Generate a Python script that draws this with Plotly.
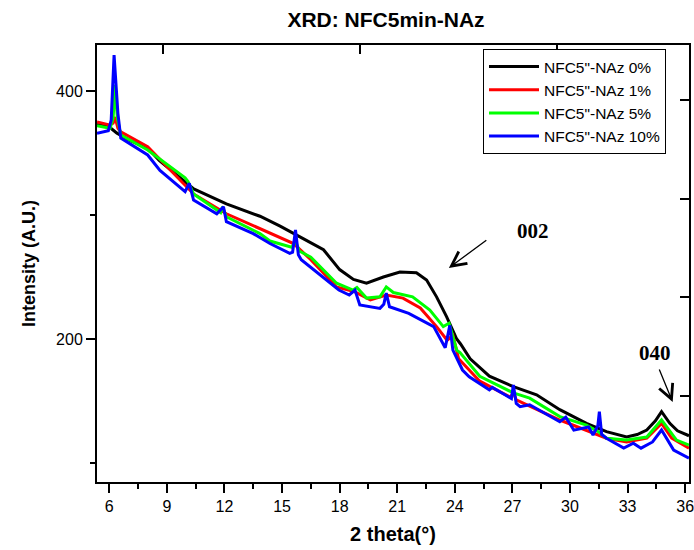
import plotly.graph_objects as go

# ---- data ----
names = ['NFC5"-NAz 0%', 'NFC5"-NAz 1%', 'NFC5"-NAz 5%', 'NFC5"-NAz 10%']
colors = ["#000000", "#ff0000", "#00ff00", "#0000ff"]

x_black = [5.36, 6.0, 6.4, 7.1, 8.0, 8.6, 10.4, 12.1, 13.85, 14.9, 16.1, 17.16, 18.0, 18.72, 19.4,
           20.28, 21.14, 22.0, 22.53, 23.05, 23.57, 24.1, 24.3, 24.8, 25.8, 27.05, 28.26, 29.47,
           30.86, 31.9, 32.95, 33.5, 34.0, 34.45, 34.77, 35.2, 35.6, 36.2]
y_black = [373, 371, 366, 360, 354, 344, 321, 309, 299, 291, 281, 272, 256, 248, 245,
           250, 254, 253.5, 247.6, 234, 218, 200, 196, 184, 170, 161.6, 155, 143,
           132, 125.3, 121, 123, 126.6, 134, 141.4, 132, 126, 122]

x_red = [5.36, 6.0, 6.2, 6.3, 6.45, 6.6, 8.0, 10.39, 12.1, 13.85, 14.9, 15.6, 16.5, 17.84, 18.8,
         19.6, 20.43, 21.3, 22.2, 23.05, 23.6, 23.9, 24.2, 25.3, 26.9, 27.05, 27.2, 29.47, 31.9,
         32.95, 34.0, 34.77, 35.3, 36.2]
y_red = [375, 372.6, 374, 379, 370, 367, 355, 317, 301, 289, 282, 277, 264, 242, 238,
         231.5, 235.5, 233, 225, 210, 199, 203, 184, 166, 153, 157, 151, 134.7, 120,
         117, 120, 132, 120, 112]

x_green = [5.36, 6.04, 6.2, 6.3, 6.42, 6.6, 8.0, 9.95, 10.1, 10.25, 10.39, 11.8, 11.9, 12.1, 13.85,
           14.37, 15.5, 15.7, 15.9, 16.5, 17.84, 18.7, 18.9, 19.4, 20.1, 20.43, 20.8, 21.8, 22.7,
           23.4, 23.7, 24.1, 24.27, 25.3, 27.05, 27.9, 29.47, 30.86, 31.5, 31.9, 32.95, 34.0,
           34.77, 35.55, 36.2]
y_green = [372, 370, 378, 405, 378, 364.5, 352.4, 330, 327, 322, 317, 302, 306.7, 298.6, 285,
           279, 274, 279, 271, 266, 245, 239.5, 241.6, 233, 234, 242, 237.5, 234, 223.4,
           210, 212.7, 191, 189, 170, 156.5, 152.3, 137.4, 130.6, 125, 120, 118.5, 121,
           134.7, 118.5, 114.5]

x_blue = [5.36, 5.95, 6.1, 6.25, 6.45, 6.6, 8.0, 8.64, 9.95, 10.17, 10.39, 11.6, 11.95, 12.1,
          13.5, 14.37, 15.4, 15.55, 15.7, 15.85, 16.0, 16.9, 17.96, 18.5, 18.8, 19.05, 20.1,
          20.3, 20.43, 20.6, 21.6, 22.9, 23.5, 23.74, 23.9, 24.4, 24.75, 25.8, 25.95, 26.5,
          26.95, 27.05, 27.2, 27.4, 27.9, 29.47, 29.78, 30.2, 30.97, 31.2, 31.45, 31.53, 31.65,
          31.9, 32.8, 33.3, 33.7, 34.3, 34.77, 35.4, 36.2]
y_blue = [366, 368, 376.6, 429, 382, 362, 348.4, 336, 318.8, 325.6, 312, 301, 306.7, 294.6,
          285, 277, 269, 270, 288, 268, 264, 253, 239.5, 235.5, 239.5, 227.4, 224.7,
          228, 237, 226, 220.7, 210, 193, 211, 191, 175, 169.6, 159, 161, 156,
          152, 163, 148, 145.4, 147, 133.3, 137, 126.5, 129, 122.6, 130, 141.4, 123,
          120, 112, 116, 112, 117, 126.6, 110.5, 104]

series_x = [x_black, x_red, x_green, x_blue]
series_y = [y_black, y_red, y_green, y_blue]

x_range = [5.36, 36.2]
y_range = [84.7, 437.1]
x_ticks = [6, 9, 12, 15, 18, 21, 24, 27, 30, 33, 36]
y_ticks = [200, 400]
top_ticks = [8.8, 19.06, 29.32]
right_ticks = [154.0, 233.9, 312.9, 392.7]

FONT = "Arial, Liberation Sans, sans-serif"

fig = go.Figure()
for n, c, xs, ys in zip(names, colors, series_x, series_y):
    fig.add_trace(go.Scatter(x=xs, y=ys, mode="lines", name=n,
                             line=dict(color=c, width=3)))

# empty trace to anchor the mirror (top/right) tick axes
fig.add_trace(go.Scatter(x=[], y=[], xaxis="x2", yaxis="y2", showlegend=False,
                         hoverinfo="skip"))

fig.update_layout(
    width=694, height=550,
    paper_bgcolor="white", plot_bgcolor="white",
    margin=dict(l=97, r=5, t=45, b=68, autoexpand=False),
    title=dict(text="<b>XRD: NFC5min-NAz</b>", x=386/694, xanchor="center",
               y=1 - 19.5/550, yanchor="middle",
               font=dict(family=FONT, size=21, color="black")),
    font=dict(family=FONT, color="black"),
    xaxis=dict(range=x_range, tickvals=x_ticks, ticks="outside", ticklen=9, tickwidth=1.5,
               tickcolor="black", showline=True, linecolor="black", linewidth=2, mirror=True,
               showgrid=False, zeroline=False, automargin=False, ticklabeloverflow="allow",
               minor=dict(dtick=1.5, tick0=6, ticks="outside", ticklen=5, tickwidth=1.5,
                          tickcolor="black", showgrid=False),
               tickfont=dict(size=16, family=FONT),
               title=dict(text="<b>2 theta(°)</b>", font=dict(size=20, family=FONT),
                          standoff=13)),
    yaxis=dict(range=y_range, tickvals=y_ticks, ticks="outside", ticklen=9, tickwidth=1.5,
               tickcolor="black", showline=True, linecolor="black", linewidth=2, mirror=True,
               showgrid=False, zeroline=False, automargin=False,
               minor=dict(tickvals=[100, 300], ticks="outside", ticklen=5, tickwidth=1.5,
                          tickcolor="black", showgrid=False),
               tickfont=dict(size=16, family=FONT),
               title=dict(text="<b>Intensity (A.U.)</b>", font=dict(size=18, family=FONT),
                          standoff=16)),
    xaxis2=dict(overlaying="x", side="top", range=x_range, tickvals=top_ticks,
                ticks="inside", ticklen=9, tickwidth=1.5, tickcolor="black", automargin=False,
                showticklabels=False, showgrid=False, zeroline=False, showline=False),
    yaxis2=dict(overlaying="y", side="right", range=y_range, tickvals=right_ticks,
                ticks="inside", ticklen=9, tickwidth=1.5, tickcolor="black", automargin=False,
                showticklabels=False, showgrid=False, zeroline=False, showline=False),
    legend=dict(x=(483 - 97) / 592, y=(482 - 49) / 437, xanchor="left", yanchor="top",
                bgcolor="white", bordercolor="black", borderwidth=1, itemwidth=50,
                font=dict(size=15.5, family=FONT), tracegroupgap=0),
    showlegend=True,
)

SERIF = "Times New Roman, Liberation Serif, serif"
# peak labels and arrows
fig.add_annotation(x=28.07, y=287.5, text="<b>002</b>", showarrow=False,
                   font=dict(family=SERIF, size=21, color="black"))
fig.add_annotation(x=23.69, y=257.3, ax=25.72, ay=280.6, axref="x", ayref="y",
                   text="", showarrow=True, arrowhead=5, arrowsize=2.2, arrowwidth=1.3,
                   arrowcolor="black")
fig.add_annotation(x=34.45, y=188.5, text="<b>040</b>", showarrow=False,
                   font=dict(family=SERIF, size=21, color="black"))
fig.add_annotation(x=35.35, y=149.2, ax=34.62, ay=176.6, axref="x", ayref="y",
                   text="", showarrow=True, arrowhead=5, arrowsize=2.2, arrowwidth=1.3,
                   arrowcolor="black")

fig.write_html("out.html", config={"displayModeBar": False},
               post_script="document.body.style.margin='0';")
